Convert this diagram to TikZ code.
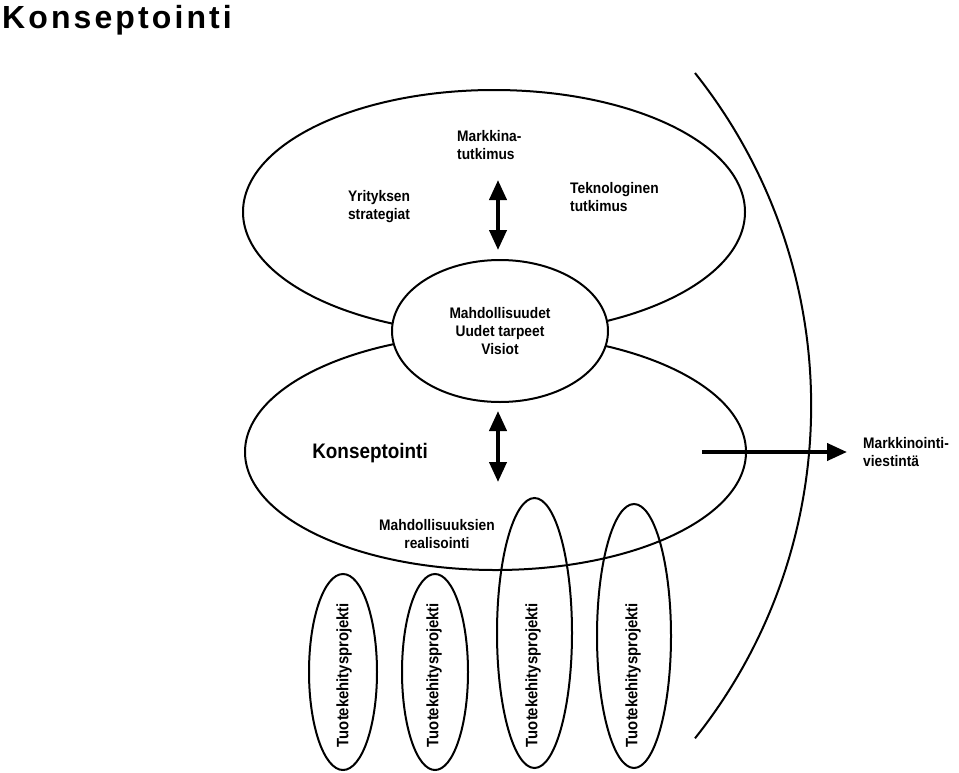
\documentclass[tikz,border=0pt]{standalone}
\usepackage{fontspec}
\setmainfont{Liberation Sans}[FakeStretch=0.9]
\newfontfamily\titlefont{Liberation Sans}[LetterSpace=9.7]
\usetikzlibrary{shapes.geometric,arrows.meta}
\begin{document}
\begin{tikzpicture}[x=1pt,y=-1pt,
  lbl/.style={font=\bfseries\fontsize{15.3}{18}\selectfont, inner sep=0pt, align=center},
  projlbl/.style={font=\bfseries\fontsize{16.5}{19}\selectfont, inner sep=0pt, rotate=90},
  oval/.style={ellipse, draw, line width=2pt, inner sep=0pt, outer sep=0pt},
  dbl/.style={line width=4pt, {Triangle[length=20pt,width=17pt]}-{Triangle[length=20pt,width=17pt]}},
  sgl/.style={line width=4pt, -{Triangle[length=20pt,width=17pt]}},
]
\path[use as bounding box] (0,0) rectangle (959,772);

% title
\node[anchor=base west, inner sep=0pt, font=\titlefont\bfseries\fontsize{32}{36}\selectfont] (title) at (2,28) {Konseptointi};

% main ovals
\node[oval, minimum width=502, minimum height=244] (upper) at (494,212) {};
\node[oval, minimum width=501, minimum height=236] (lower) at (495.5,452) {};
\node[oval, fill=white, minimum width=216, minimum height=142] (centre) at (500,331) {};

% labels
\node[lbl, anchor=west, align=left] (mt) at (457,145) {Markkina-\\tutkimus};
\node[lbl] (ys) at (379,207) {Yrityksen\\strategiat};
\node[lbl, anchor=west, align=left] (tt) at (570,197) {Teknologinen\\tutkimus};
\node[lbl] (mu) at (500,331) {Mahdollisuudet\\Uudet tarpeet\\Visiot};
\node[font=\bfseries\fontsize{21}{24}\selectfont, inner sep=0pt] (kp) at (370,453) {Konseptointi};
\node[lbl] (mr) at (437,534) {Mahdollisuuksien\\realisointi};
\node[lbl, anchor=west, align=left] (mv) at (863,452) {Markkinointi-\\viestintä};

% double arrows
\coordinate (a1t) at (498,180);
\coordinate (a1b) at (498,250);
\draw[dbl] (a1t) -- (a1b);
\coordinate (a2t) at (498,411);
\coordinate (a2b) at (498,482);
\draw[dbl] (a2t) -- (a2b);

% project ovals
\node[oval, minimum width=68, minimum height=196] (p1) at (343,672) {};
\node[oval, minimum width=66, minimum height=196] (p2) at (435,672) {};
\node[oval, minimum width=75, minimum height=270] (p3) at (534.5,633) {};
\node[oval, minimum width=74, minimum height=264] (p4) at (634,636) {};
\node[projlbl] (t1) at (344,675) {Tuotekehitysprojekti};
\node[projlbl] (t2) at (434,675) {Tuotekehitysprojekti};
\node[projlbl] (t3) at (533,675) {Tuotekehitysprojekti};
\node[projlbl] (t4) at (633,675) {Tuotekehitysprojekti};

% big arc
\coordinate (arcTop) at (695,73);
\draw[line width=2pt] (arcTop) arc[start angle=-38.5, end angle=38.5, radius=534.4];

% right arrow
\coordinate (r1) at (702,452);
\coordinate (r2) at (847,452);
\draw[sgl] (r1) -- (r2);
\end{tikzpicture}
\end{document}
